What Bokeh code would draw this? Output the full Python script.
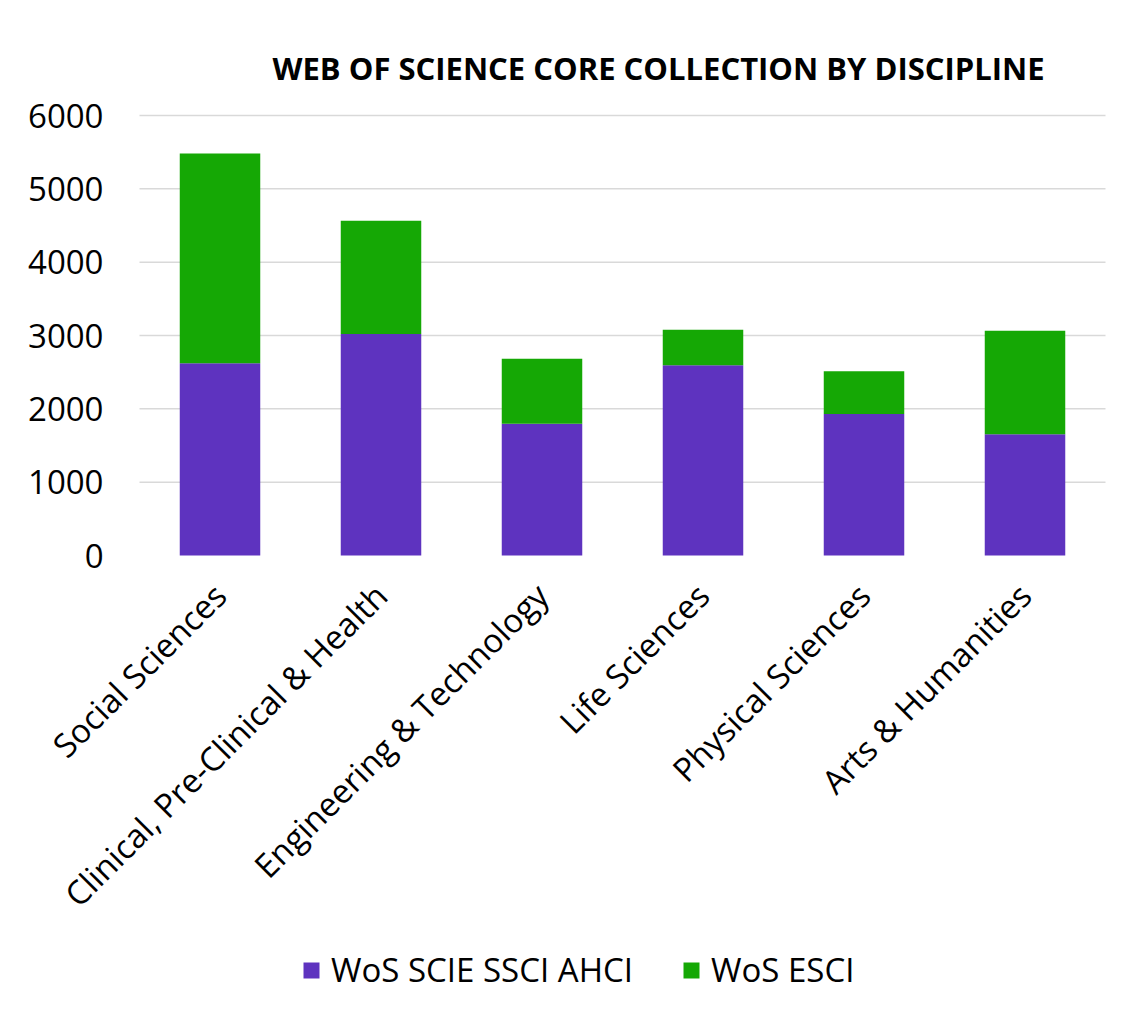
from bokeh.plotting import figure
from bokeh.models import (Range1d, FixedTicker, Legend, LegendItem, ColumnDataSource)
from bokeh.embed import file_html
from bokeh.resources import INLINE
import math

categories = ["Social Sciences", "Clinical, Pre-Clinical & Health", "Engineering & Technology",
              "Life Sciences", "Physical Sciences", "Arts & Humanities"]
core = [2623, 3020, 1797, 2595, 1928, 1655]
total = [5482, 4565, 2683, 3078, 2512, 3065]
esci = [t - c for t, c in zip(total, core)]
series_names = ["WoS SCIE SSCI AHCI", "WoS ESCI"]
colors = ["#5E33BF", "#15A805"]
y_ticks = [0, 1000, 2000, 3000, 4000, 5000, 6000]
title_text = "WEB OF SCIENCE CORE COLLECTION BY DISCIPLINE"

n = len(categories)
xpos = [i + 0.5 for i in range(n)]
src = ColumnDataSource(dict(x=xpos, cat=categories, core=core, esci=esci))

FONT = "Open Sans"
unit = 161.0  # pixels per category slot

p = figure(frame_width=1122, frame_height=907, output_backend="svg", toolbar_location=None,
           x_range=Range1d(-139 / unit, n + 17 / unit), y_range=Range1d(-6068, 6300),
           min_border_left=0, min_border_right=0, min_border_top=93, min_border_bottom=0)

# horizontal gridlines (plot area only)
grid_vals = [t for t in y_ticks if t > 0]
p.segment(x0=[0] * len(grid_vals), x1=[n] * len(grid_vals), y0=grid_vals, y1=grid_vals,
          line_color="#d9d9d9", line_width=1.5)

rs = p.vbar_stack(["core", "esci"], x="x", width=0.5, source=src, color=colors, line_color=None)

p.title.text = title_text
p.title.text_font = FONT
p.title.text_font_style = "bold"
p.title.text_font_size = "31px"
p.title.text_color = "#000000"
p.title.align = "left"
p.title.offset = 272
p.title.standoff = 9

p.outline_line_color = None
p.xgrid.visible = False
p.ygrid.visible = False

p.yaxis.fixed_location = 0
p.yaxis.ticker = FixedTicker(ticks=y_ticks)
p.yaxis.axis_line_color = None
p.yaxis.major_tick_line_color = None
p.yaxis.minor_tick_line_color = None
p.yaxis.major_tick_out = 0
p.yaxis.major_tick_in = 0
p.yaxis.major_label_standoff = 36
p.yaxis.major_label_text_font = FONT
p.yaxis.major_label_text_font_size = "33px"
p.yaxis.major_label_text_color = "#000000"

p.xaxis.fixed_location = 0
p.xaxis.ticker = FixedTicker(ticks=xpos)
p.xaxis.major_label_overrides = {x: c for x, c in zip(xpos, categories)}
p.xaxis.axis_line_color = None
p.xaxis.major_tick_line_color = None
p.xaxis.minor_tick_line_color = None
p.xaxis.major_tick_out = 0
p.xaxis.major_tick_in = 0
p.xaxis.major_label_standoff = 34
p.xaxis.major_label_orientation = math.pi / 4
p.xaxis.major_label_text_font = FONT
p.xaxis.major_label_text_font_size = "33px"
p.xaxis.major_label_text_color = "#000000"

legend = Legend(items=[LegendItem(label=series_names[i], renderers=[rs[i]]) for i in range(2)],
                orientation="horizontal", location=(301, 8),
                label_text_font=FONT, label_text_font_size="33px", label_text_color="#000000",
                glyph_width=20, glyph_height=20, spacing=48, label_standoff=10,
                border_line_color=None, background_fill_alpha=0, margin=0, padding=5)
p.add_layout(legend, "center")

open("out.html", "w").write(file_html(p, INLINE))
